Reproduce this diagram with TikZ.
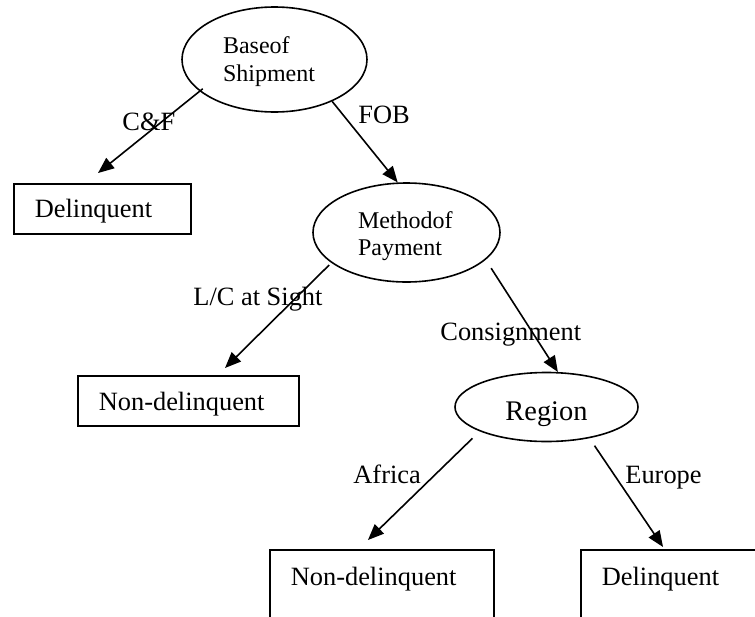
\documentclass[tikz,border=0pt]{standalone}
\usepackage{fontspec}
\setmainfont{Liberation Serif}
\usetikzlibrary{arrows.meta,shapes.geometric}

\tikzset{
  conn/.style={line width=0.8pt, -{Triangle[length=8pt,width=6.5pt]}},
  ovalnode/.style={draw, ellipse, line width=0.8pt, inner sep=0pt, align=left},
  leafbox/.style={draw, rectangle, line width=0.8pt, anchor=north west,
    inner xsep=10.5pt, inner ysep=7.5pt, align=left,
    font=\fontsize{13.2}{15}\selectfont},
  edgelabel/.style={anchor=base west, inner sep=0pt,
    font=\fontsize{13.2}{15}\selectfont},
}

\begin{document}
\begin{tikzpicture}[x=0.5pt,y=-0.5pt]
\path[use as bounding box, clip] (0,0) rectangle (755,616);

% decision nodes
\node[ovalnode, minimum width=92.5pt, minimum height=52.5pt, text width=51.5pt, text height=10.1pt,
      font=\fontsize{12}{14}\selectfont] (base) at (274.5,59.5) {Baseof\\Shipment};
\node[ovalnode, minimum width=93.5pt, minimum height=49.5pt, text width=48.5pt, text height=11.6pt,
      font=\fontsize{12}{13.5}\selectfont] (pay) at (406.5,232.5) {Methodof\\Payment};
\node[ovalnode, minimum width=91.5pt, minimum height=34.5pt, text height=13pt, text depth=0pt,
      font=\fontsize{14.2}{16}\selectfont] (reg) at (546.5,407) {Region};

% leaves
\node[leafbox, text width=67.5pt, text height=9.5pt, text depth=0.5pt] (d1) at (13,183) {Delinquent};
\node[leafbox, text width=89.5pt, text height=10pt, text depth=0pt] (nd1) at (77,375) {Non-delinquent};
\node[leafbox, text width=91pt, text height=10.5pt, text depth=30pt] (nd2) at (269,549) {Non-delinquent};
\node[leafbox, text width=79pt, text height=10.5pt, text depth=30pt] (d2) at (580,549) {Delinquent};

% branches
\draw[conn, shorten <=-2pt, shorten >=7.95pt] (base.203) -- ([xshift=36.3pt]d1.north west);
\draw[conn] (base.324) -- (pay.100);
\draw[conn, shorten <=1.5pt, shorten >=5pt] (pay.202) -- ([xshift=70.45pt]nd1.north west);
\draw[conn, shorten <=5pt] (pay.341) -- (reg.72);
\draw[conn, shorten <=5pt, shorten >=6.45pt] (reg.200) -- ([xshift=44.85pt]nd2.north west);
\draw[conn, shorten <=4.5pt, shorten >=1.2pt] (reg.324) -- ([xshift=42.2pt]d2.north west);

% branch labels
\node[edgelabel] (lcf) at (122,130) {C\&F};
\node[edgelabel] (lfob) at (358,123) {FOB};
\node[edgelabel] (llc) at (193,305) {L/C at Sight};
\node[edgelabel] (lcon) at (440,340) {Consignment};
\node[edgelabel] (laf) at (353,483) {Africa};
\node[edgelabel] (leu) at (625,483) {Europe};
\end{tikzpicture}
\end{document}
